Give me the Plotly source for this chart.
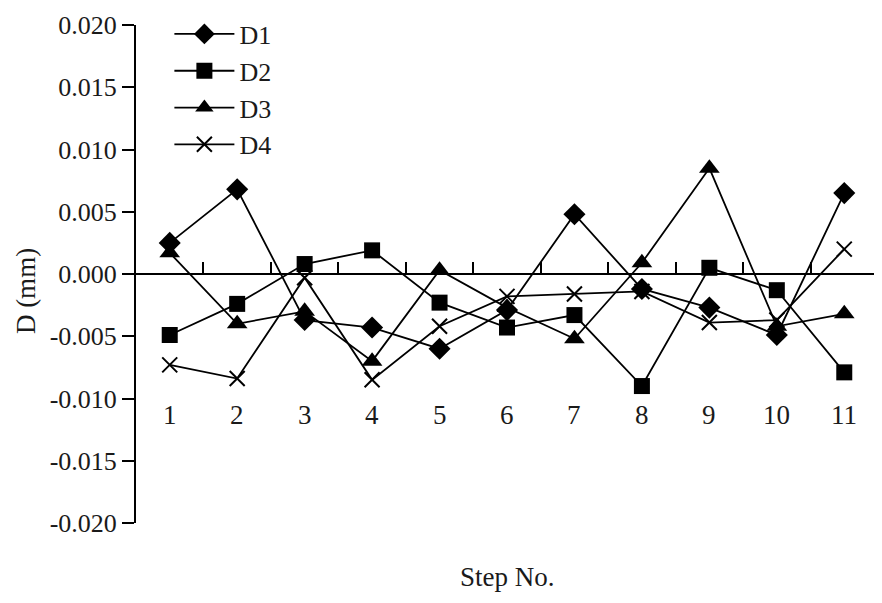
import plotly.graph_objects as go

steps = [1, 2, 3, 4, 5, 6, 7, 8, 9, 10, 11]
D1 = [0.0025, 0.0068, -0.0037, -0.0043, -0.0060, -0.0029, 0.0048, -0.0012, -0.0027, -0.0049, 0.0065]
D2 = [-0.0049, -0.0024, 0.0008, 0.0019, -0.0023, -0.0043, -0.0033, -0.0090, 0.0005, -0.0013, -0.0079]
D3 = [0.0017, -0.0040, -0.0030, -0.0070, 0.0003, -0.0027, -0.0052, 0.0009, 0.0085, -0.0042, -0.0032]
D4 = [-0.0073, -0.0084, -0.0003, -0.0085, -0.0042, -0.0018, -0.0016, -0.0014, -0.0039, -0.0037, 0.0020]
series_names = ["D1", "D2", "D3", "D4"]
y_tickvals = [-0.020, -0.015, -0.010, -0.005, 0.000, 0.005, 0.010, 0.015, 0.020]
y_ticktext = ["-0.020", "-0.015", "-0.010", "-0.005", "0.000", "0.005", "0.010", "0.015", "0.020"]
x_label_level = -0.0113
x_title = "Step No."
y_title = "D (mm)"

FONT = "Liberation Serif, Times New Roman, serif"
symbols = ["diamond", "square", "triangle-up", "x-thin"]
sizes = [17, 16, 18, 15]

fig = go.Figure()
for name, vals, sym, sz in zip(series_names, [D1, D2, D3, D4], symbols, sizes):
    fig.add_trace(go.Scatter(
        x=steps, y=vals, name=name, mode="lines+markers",
        line=dict(color="black", width=1.8),
        marker=dict(symbol=sym, size=sz, color="black",
                    line=dict(color="black", width=2 if sym == "x-thin" else 0)),
    ))

boundaries = [s + 0.5 for s in steps]

for s in steps:
    fig.add_annotation(x=s, y=x_label_level, xref="x", yref="y", text=str(s),
                       showarrow=False, font=dict(family=FONT, size=27, color="#1a1a1a"),
                       yanchor="middle")

fig.add_annotation(x=0.5, y=-0.108, xref="paper", yref="paper", text=x_title,
                   showarrow=False, font=dict(family=FONT, size=27, color="#1a1a1a"),
                   yanchor="middle")
fig.add_annotation(x=-0.148, y=0.466, xref="paper", yref="paper", text=y_title,
                   showarrow=False, textangle=-90,
                   font=dict(family=FONT, size=27, color="#1a1a1a"),
                   xanchor="center", yanchor="middle")

fig.update_layout(
    width=874, height=595,
    margin=dict(l=128, r=4, t=16, b=80),
    paper_bgcolor="white", plot_bgcolor="white",
    font=dict(family=FONT, color="#1a1a1a"),
    showlegend=True,
    legend=dict(x=0.045, y=1.027, xanchor="left", yanchor="top",
                bgcolor="rgba(0,0,0,0)", font=dict(family=FONT, size=26, color="#1a1a1a"),
                itemwidth=60, tracegroupgap=0),
    xaxis=dict(range=[0.5, 11.5], anchor="free", position=0.5,
               showline=True, linecolor="black", linewidth=2,
               tickmode="array", tickvals=boundaries, ticks="inside",
               ticklen=11, tickwidth=2, tickcolor="black",
               showticklabels=False, showgrid=False, zeroline=False),
    yaxis=dict(range=[-0.020, 0.020], showline=True, linecolor="black", linewidth=2,
               tickmode="array", tickvals=y_tickvals, ticktext=y_ticktext,
               ticks="outside", ticklen=12, tickwidth=2, tickcolor="black",
               tickfont=dict(family=FONT, size=26, color="#1a1a1a"),
               showgrid=False, zeroline=False),
)

fig.write_html("out.html")
